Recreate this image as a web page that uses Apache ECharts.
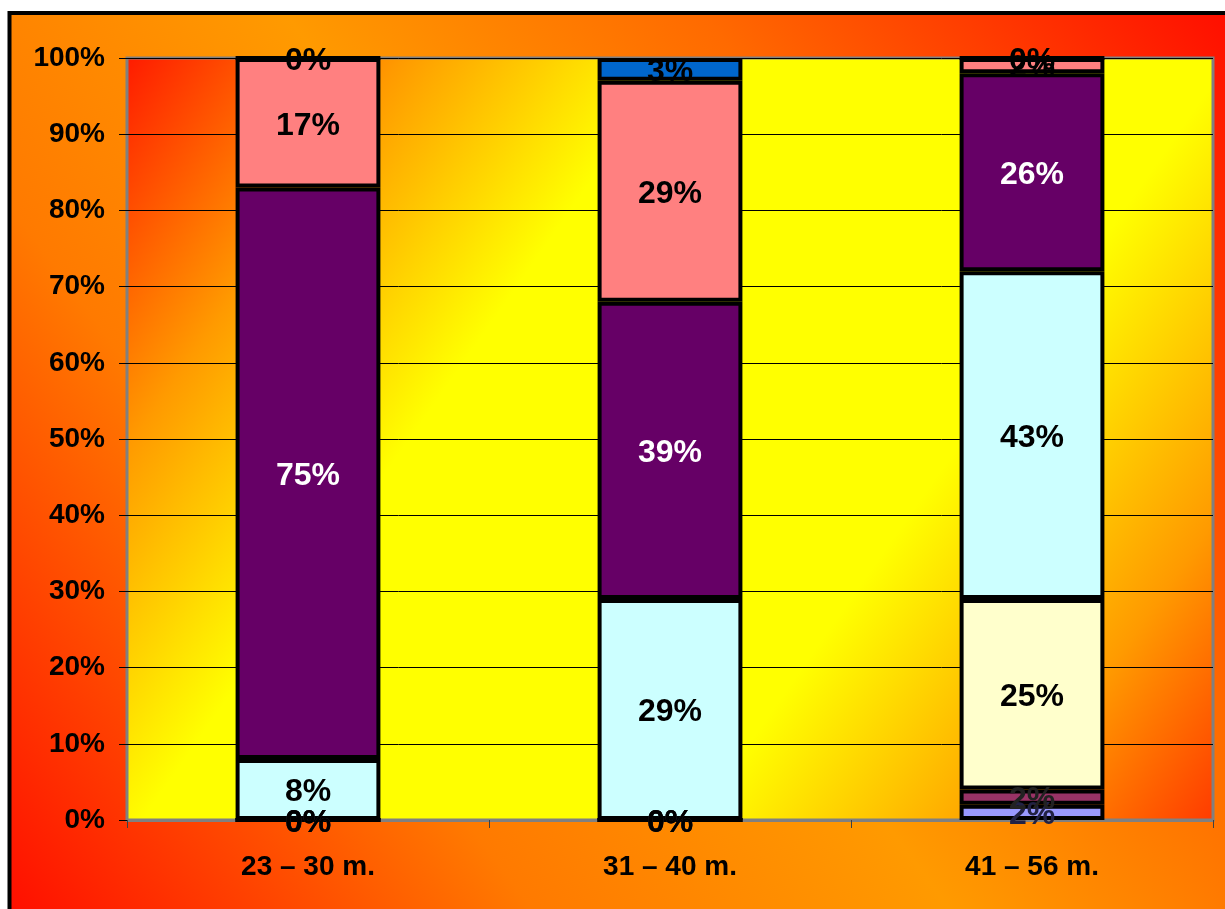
<!DOCTYPE html>
<html>
<head>
<meta charset="utf-8">
<script src="https://cdn.jsdelivr.net/npm/echarts@6/dist/echarts.min.js"></script>
<style>
html,body{margin:0;padding:0;background:#fff;}
#c{width:1225px;height:909px;}
</style>
</head>
<body>
<div id="c"></div>
<script>
const categories = ['23 – 30 m.', '31 – 40 m.', '41 – 56 m.'];
const yTicks = [0, 10, 20, 30, 40, 50, 60, 70, 80, 90, 100];
const s1 = [0, 0, 2];   // lavender
const s2 = [0, 0, 2];   // plum
const s3 = [0, 0, 25];  // light yellow
const s4 = [8, 29, 43]; // light cyan
const s5 = [75, 39, 26];// purple
const s6 = [17, 29, 2]; // salmon
const s7 = [0, 3, 0];   // blue

const seriesDefs = [
  {data: s1, color: '#9999FF', label: '#222244'},
  {data: s2, color: '#993366', label: '#222222'},
  {data: s3, color: '#FFFFCC', label: '#000000'},
  {data: s4, color: '#CCFFFF', label: '#000000'},
  {data: s5, color: '#660066', label: '#FFFFFF'},
  {data: s6, color: '#FF8080', label: '#000000'},
  {data: s7, color: '#0066CC', label: '#000000'}
];

const chart = echarts.init(document.getElementById('c'), null, {renderer: 'canvas'});
const font = '"Liberation Sans", Arial, sans-serif';

chart.setOption({
  animation: false,
  backgroundColor: {
    type: 'linear', x: 0, y: 1, x2: 1, y2: 0,
    colorStops: [
      {offset: 0, color: '#FF0D00'},
      {offset: 0.28, color: '#FF7A00'},
      {offset: 0.5, color: '#FF9A00'},
      {offset: 0.72, color: '#FF6A00'},
      {offset: 1, color: '#FF0D00'}
    ]
  },
  graphic: [
    {type: 'rect', shape: {x: 0, y: 0, width: 1225, height: 11}, style: {fill: '#fff'}, silent: true},
    {type: 'rect', shape: {x: 0, y: 0, width: 8, height: 909}, style: {fill: '#fff'}, silent: true},
    {type: 'polyline', shape: {points: [[9.5, 909], [9.5, 13], [1225, 13]]}, style: {stroke: '#000', lineWidth: 4, fill: null}, silent: true}
  ],
  grid: {
    left: 127, right: 12, top: 58, bottom: 89,
    show: true,
    borderColor: '#808080',
    borderWidth: 3,
    backgroundColor: {
      type: 'linear', x: 0, y: 0, x2: 1, y2: 1,
      colorStops: [
        {offset: 0, color: '#FF1A00'},
        {offset: 0.17, color: '#FF9A00'},
        {offset: 0.34, color: '#FFFF00'},
        {offset: 0.68, color: '#FFFF00'},
        {offset: 0.87, color: '#FF9A00'},
        {offset: 1, color: '#FF3A00'}
      ]
    }
  },
  xAxis: {
    type: 'category',
    data: categories,
    axisLine: {lineStyle: {color: '#808080', width: 3}},
    axisTick: {show: true, length: 8, lineStyle: {color: '#404040', width: 1}},
    axisLabel: {fontFamily: font, fontWeight: 'bold', fontSize: 28, color: '#000', margin: 33}
  },
  yAxis: {
    type: 'value',
    min: yTicks[0], max: yTicks[yTicks.length - 1], interval: 10,
    axisLine: {show: false},
    axisTick: {show: true, length: 8, lineStyle: {color: '#000', width: 1}},
    splitLine: {show: true, lineStyle: {color: '#000', width: 1}},
    axisLabel: {fontFamily: font, fontWeight: 'bold', fontSize: 28, color: '#000', margin: 22,
      formatter: v => v + '%'}
  },
  series: seriesDefs.map(d => ({
    type: 'bar',
    stack: 'total',
    data: d.data,
    barWidth: '40%',
    itemStyle: {color: d.color, borderColor: '#000', borderWidth: 4},
    label: {
      show: true, position: 'inside', offset: [0, 3],
      formatter: '{c}%',
      fontFamily: font, fontWeight: 'bold', fontSize: 32, color: d.label
    }
  }))
});
</script>
</body>
</html>
